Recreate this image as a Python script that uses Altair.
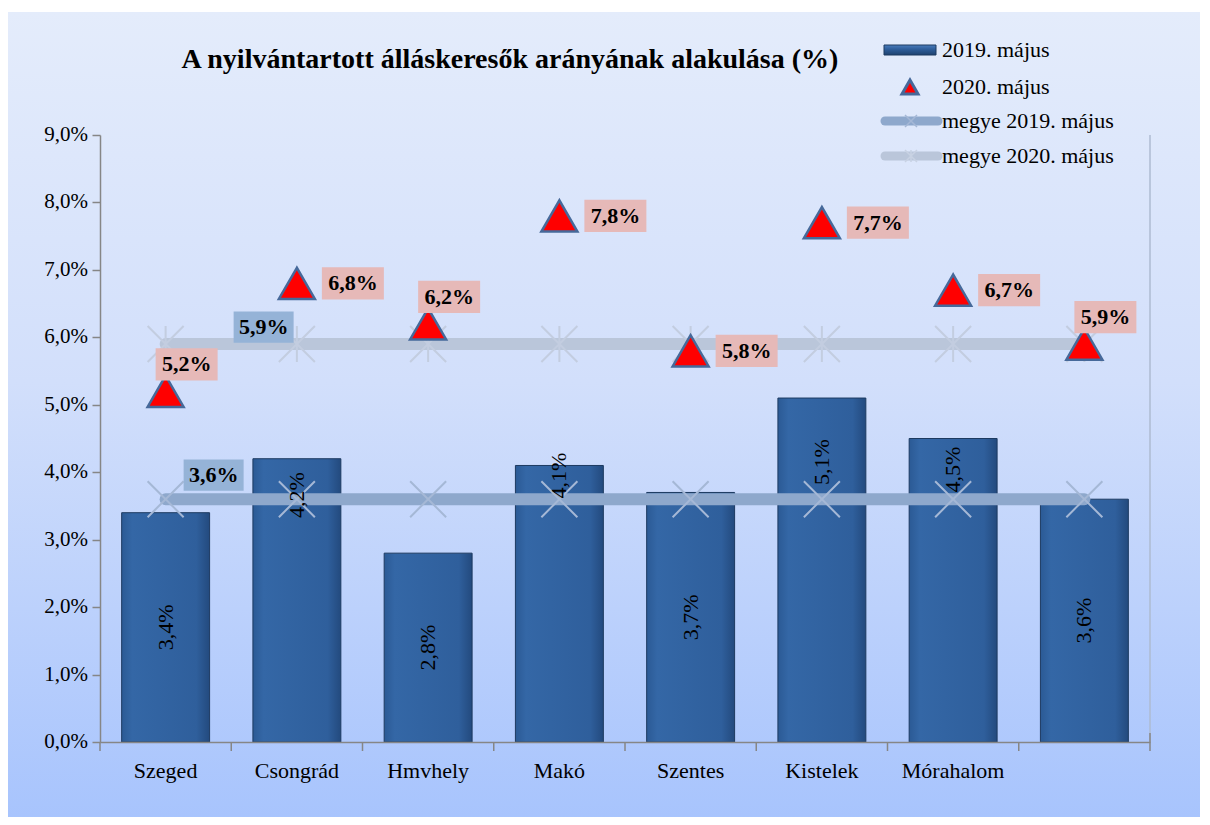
import altair as alt
import pandas as pd

categories = ["Szeged", "Csongrád", "Hmvhely", "Makó", "Szentes", "Kistelek", "Mórahalom", " "]
v2019 = [3.4, 4.2, 2.8, 4.1, 3.7, 5.1, 4.5, 3.6]
v2020 = [5.2, 6.8, 6.2, 7.8, 5.8, 7.7, 6.7, 5.9]
megye2019 = [3.6, 3.6, 3.6, 3.6, 3.6, 3.6, 3.6, 3.6]
megye2020 = [5.9, 5.9, 5.9, 5.9, 5.9, 5.9, 5.9, 5.9]
# where the rotated bar labels sit (value units)
bar_label_at = [1.7, 3.66, 1.4, 3.95, 1.85, 4.15, 4.04, 1.8]
# placement of the 2020 labels
label2020_place = ["above", "right", "above", "right", "right", "right", "right", "above"]
y_ticks = [0, 1, 2, 3, 4, 5, 6, 7, 8, 9]

series_names = ["2019. május", "2020. május", "megye 2019. május", "megye 2020. május"]
title_text = "A nyilvántartott álláskeresők arányának alakulása (%)"

FONT = "Liberation Serif"
W, H = 1050, 607
P_INNER, P_OUTER = 0.33, 0.165
STEP = W / (len(categories) - P_INNER + 2 * P_OUTER)


def pct(v):
    return f"{v:.1f}".replace(".", ",") + "%"


df = pd.DataFrame({
    "cat": categories,
    "v2019": v2019,
    "v2020": v2020,
    "m2019": megye2019,
    "m2020": megye2020,
    "lab_at": bar_label_at,
    "place": label2020_place,
})
df["l2019"] = [pct(v) for v in v2019]
df["l2020"] = [pct(v) for v in v2020]
df["lm2019"] = [pct(v) for v in megye2019]
df["lm2020"] = [pct(v) for v in megye2020]

ydf = pd.DataFrame({"v": y_ticks, "lab": [pct(v) for v in y_ticks]})

xscale = alt.Scale(domain=categories, paddingInner=P_INNER, paddingOuter=P_OUTER)
yscale = alt.Scale(domain=[0, 9], nice=False, zero=True)

xaxis = alt.Axis(title=None, labels=False, domainColor="#868686", domainWidth=1.5, ticks=False,
                 grid=False, zindex=2)
yaxis = alt.Axis(title=None, values=y_ticks, grid=False, labels=False,
                 domainColor="#868686", domainWidth=1.5, tickColor="#868686", tickWidth=1.5,
                 tickSize=8, zindex=2)

X = alt.X("cat:N", sort=categories, scale=xscale, axis=xaxis, title=None)


def Y(field):
    return alt.Y(f"{field}:Q", scale=yscale, axis=yaxis, title=None)


base = alt.Chart(df)
one = alt.Chart(pd.DataFrame({"a": [0]}))

bg_grad = alt.LinearGradient(gradient="linear", x1=0, x2=0, y1=0, y2=1, stops=[
    alt.GradientStop(color="#e4ecfb", offset=0),
    alt.GradientStop(color="#d2dffb", offset=0.45),
    alt.GradientStop(color="#a6c3fd", offset=1),
])
bar_grad = alt.LinearGradient(gradient="linear", x1=0, x2=1, y1=0, y2=0, stops=[
    alt.GradientStop(color="#2b5a95", offset=0),
    alt.GradientStop(color="#3467a6", offset=0.12),
    alt.GradientStop(color="#2f5f9c", offset=0.85),
    alt.GradientStop(color="#234a7e", offset=1),
])

layers = []
layers.append(one.mark_rect(color=bg_grad).encode(
    x=alt.value(-92), x2=alt.value(1120), y=alt.value(-123), y2=alt.value(700)))
# right border of plot area
layers.append(one.mark_rule(color="#aebbd2", strokeWidth=1.5).encode(
    x=alt.value(W), y=alt.value(0), y2=alt.value(H)))

layers.append(base.mark_bar(color=bar_grad, stroke="#1d3a60", strokeWidth=1).encode(x=X, y=Y("v2019")))

# x-axis ticks at category boundaries
layers.append(base.mark_rule(color="#868686", strokeWidth=1.5, xOffset=-P_INNER * STEP / 2).encode(
    x=alt.X("cat:N", sort=categories, scale=xscale, axis=xaxis, title=None, bandPosition=0),
    y=alt.value(H), y2=alt.value(H + 9)))
layers.append(one.mark_rule(color="#868686", strokeWidth=1.5).encode(
    x=alt.value(W), y=alt.value(H - 9), y2=alt.value(H + 9)))

# axis labels
layers.append(base.mark_text(font=FONT, fontSize=22, color="black", baseline="middle", align="center",
                             yOffset=H + 29).encode(x=X, y=alt.value(0), text="cat:N"))
layers.append(alt.Chart(ydf).mark_text(font=FONT, fontSize=21, color="black", baseline="middle",
                                       align="right", xOffset=-12).encode(
    x=alt.value(0), y=alt.Y("v:Q", scale=yscale, axis=yaxis, title=None), text="lab:N"))

xpath = "M-1,-1L1,1M-1,1L1,-1"
starpath = "M-1,-1L1,1M-1,1L1,-1M0,-1L0,1"

# megye 2019 line
layers.append(base.mark_line(color="#8ea8cc", strokeWidth=12, strokeCap="round").encode(x=X, y=Y("m2019")))
layers.append(base.mark_point(shape=xpath, size=1296, filled=False, color="#a5b8d6", strokeWidth=2,
                              opacity=1).encode(x=X, y=Y("m2019")))
# megye 2020 line
layers.append(base.mark_line(color="#bac6da", strokeWidth=12, strokeCap="round").encode(x=X, y=Y("m2020")))
layers.append(base.mark_point(shape=starpath, size=1296, filled=False, color="#c3cde0", strokeWidth=2,
                              opacity=1).encode(x=X, y=Y("m2020")))

# bar labels (rotated)
layers.append(base.mark_text(angle=270, font=FONT, fontSize=22, color="black", baseline="middle",
                             align="center").encode(x=X, y=Y("lab_at"), text="l2019:N"))

# megye labels (boxes anchored to first category)
boxpath = "M-1,-0.52L1,-0.52L1,0.52L-1,0.52Z"
first = base.transform_filter(alt.datum.cat == categories[0])
layers.append(first.mark_point(shape=boxpath, size=60 * 60, filled=True, color="#95b3d7", opacity=1,
                               xOffset=98, yOffset=-17).encode(x=X, y=Y("m2020")))
layers.append(first.mark_text(font=FONT, fontSize=22, fontWeight="bold", color="black",
                              xOffset=98, yOffset=-17).encode(x=X, y=Y("m2020"), text="lm2020:N"))
layers.append(first.mark_point(shape=boxpath, size=60 * 60, filled=True, color="#95b3d7", opacity=1,
                               xOffset=48, yOffset=-24).encode(x=X, y=Y("m2019")))
layers.append(first.mark_text(font=FONT, fontSize=22, fontWeight="bold", color="black",
                              xOffset=48, yOffset=-24).encode(x=X, y=Y("m2019"), text="lm2019:N"))

# 2020 triangles
layers.append(base.mark_point(shape="triangle-up", size=1296, filled=True, fill="#ff0000",
                              stroke="#46699a", strokeWidth=2.5, opacity=1).encode(x=X, y=Y("v2020")))

offsets = {"right": (56, 0), "above": (21, -27)}
for place, (dx, dy) in offsets.items():
    sub = base.transform_filter(alt.datum.place == place)
    layers.append(sub.mark_point(shape=boxpath, size=62 * 62, filled=True, color="#e6b9b8", opacity=1,
                                 xOffset=dx, yOffset=dy).encode(x=X, y=Y("v2020")))
    layers.append(sub.mark_text(font=FONT, fontSize=22, fontWeight="bold", color="black",
                                xOffset=dx, yOffset=dy).encode(x=X, y=Y("v2020"), text="l2020:N"))

# legend
leg_y = [-85, -48, -14, 21]
legend_grad = alt.LinearGradient(gradient="linear", x1=0, x2=0, y1=0, y2=1, stops=[
    alt.GradientStop(color="#4a7cbc", offset=0),
    alt.GradientStop(color="#2f5f9c", offset=0.4),
    alt.GradientStop(color="#1f426f", offset=1),
])
layers.append(one.mark_rect(color=legend_grad, stroke="#1d3a60", strokeWidth=1).encode(
    x=alt.value(784), x2=alt.value(836), y=alt.value(leg_y[0] - 5), y2=alt.value(leg_y[0] + 5)))
layers.append(one.mark_point(shape="triangle-up", size=256, filled=True, fill="#ff0000",
                             stroke="#46699a", strokeWidth=3, opacity=1).encode(
    x=alt.value(810), y=alt.value(leg_y[1])))
layers.append(one.mark_rule(color="#8ea8cc", strokeWidth=9, strokeCap="round").encode(
    x=alt.value(785), x2=alt.value(838), y=alt.value(leg_y[2])))
layers.append(one.mark_point(shape=xpath, size=144, filled=False, color="#a5b8d6", strokeWidth=1.5,
                             opacity=1).encode(x=alt.value(811), y=alt.value(leg_y[2])))
layers.append(one.mark_rule(color="#bac6da", strokeWidth=9, strokeCap="round").encode(
    x=alt.value(785), x2=alt.value(838), y=alt.value(leg_y[3])))
layers.append(one.mark_point(shape=starpath, size=144, filled=False, color="#c8d2e3", strokeWidth=1.5,
                             opacity=1).encode(x=alt.value(811), y=alt.value(leg_y[3])))
for name, yy in zip(series_names, leg_y):
    layers.append(alt.Chart(pd.DataFrame({"t": [name]})).mark_text(
        font=FONT, fontSize=22, color="black", align="left", baseline="middle").encode(
        x=alt.value(842), y=alt.value(yy), text="t:N"))

# title
layers.append(alt.Chart(pd.DataFrame({"t": [title_text]})).mark_text(
    font=FONT, fontSize=28, fontWeight="bold", color="black", align="center", baseline="middle").encode(
    x=alt.value(410), y=alt.value(-75), text="t:N"))

chart = alt.layer(*layers).properties(
    width=W, height=H,
    autosize=alt.AutoSizeParams(type="none"),
    padding={"left": 92, "top": 127, "right": 50, "bottom": 75},
    background="white",
).configure_view(stroke=None)

chart.save("out.html", embed_options={"renderer": "svg", "actions": False})
